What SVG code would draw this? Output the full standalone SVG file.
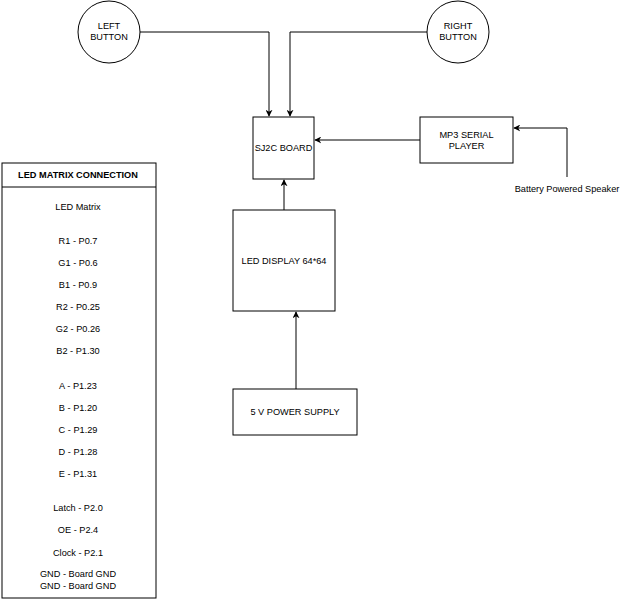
<svg xmlns="http://www.w3.org/2000/svg" width="630" height="600" viewBox="0 0 630 600">
<style>
.s{fill:#fff;stroke:#000;stroke-width:1}
.t{font-family:"Liberation Sans",Arial,sans-serif;font-size:9.2px;fill:#000;text-anchor:middle;dominant-baseline:central}
.b{font-weight:bold}
.c{fill:none;stroke:#000;stroke-width:1}
</style>
<defs>
<marker id="a" viewBox="0 0 10 10" refX="9" refY="5" markerWidth="7" markerHeight="7" markerUnits="userSpaceOnUse" orient="auto">
<path d="M0,0 L10,5 L0,10 L3,5 Z" fill="#000"/>
</marker>
</defs>
<rect width="630" height="600" fill="#fff"/>
<g id="connectors">
<path class="c" d="M140,32 H269 V116" marker-end="url(#a)"/>
<path class="c" d="M427,32 H290 V116" marker-end="url(#a)"/>
<path class="c" d="M420,140 H315" marker-end="url(#a)"/>
<path class="c" d="M567,177 V128 H514" marker-end="url(#a)"/>
<path class="c" d="M284,210 V180" marker-end="url(#a)"/>
<path class="c" d="M296,389 V312" marker-end="url(#a)"/>
</g>
<g id="left-button">
<circle class="s" cx="109" cy="32" r="31"/>
<text class="t" x="109" y="26">LEFT</text>
<text class="t" x="109" y="37">BUTTON</text>
</g>
<g id="right-button">
<circle class="s" cx="458" cy="32" r="31"/>
<text class="t" x="458" y="26">RIGHT</text>
<text class="t" x="458" y="37">BUTTON</text>
</g>
<g id="sj2c-board">
<rect class="s" x="253" y="117" width="61" height="62"/>
<text class="t" x="283.5" y="148">SJ2C BOARD</text>
</g>
<g id="mp3-player">
<rect class="s" x="420" y="117" width="93" height="46"/>
<text class="t" x="466.5" y="135">MP3 SERIAL</text>
<text class="t" x="466.5" y="146">PLAYER</text>
</g>
<g id="speaker">
<text class="t" x="567" y="189">Battery Powered Speaker</text>
</g>
<g id="led-display">
<rect class="s" x="233" y="210" width="102" height="101"/>
<text class="t" x="284" y="261">LED DISPLAY 64*64</text>
</g>
<g id="power-supply">
<rect class="s" x="233" y="389" width="124" height="46"/>
<text class="t" x="295" y="412">5 V POWER SUPPLY</text>
</g>
<g id="led-matrix-connection">
<rect class="s" x="2" y="163" width="154" height="435"/>
<line class="c" x1="2" y1="187" x2="156" y2="187"/>
<text class="t b" x="78" y="175">LED MATRIX CONNECTION</text>
<text class="t" x="78" y="207">LED Matrix</text>
<text class="t" x="78" y="241">R1 - P0.7</text>
<text class="t" x="78" y="263">G1 - P0.6</text>
<text class="t" x="78" y="285">B1 - P0.9</text>
<text class="t" x="78" y="307">R2 - P0.25</text>
<text class="t" x="78" y="329">G2 - P0.26</text>
<text class="t" x="78" y="351">B2 - P1.30</text>
<text class="t" x="78" y="386">A - P1.23</text>
<text class="t" x="78" y="408">B - P1.20</text>
<text class="t" x="78" y="430">C - P1.29</text>
<text class="t" x="78" y="452">D - P1.28</text>
<text class="t" x="78" y="474">E - P1.31</text>
<text class="t" x="78" y="508">Latch - P2.0</text>
<text class="t" x="78" y="530">OE - P2.4</text>
<text class="t" x="78" y="553">Clock - P2.1</text>
<text class="t" x="78" y="574">GND - Board GND</text>
<text class="t" x="78" y="586">GND - Board GND</text>
</g>
</svg>
